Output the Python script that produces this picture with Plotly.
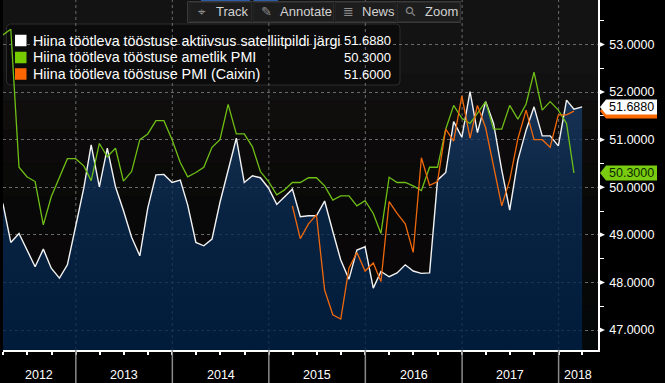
import plotly.graph_objects as go
import pandas as pd

# ---------------- data (monthly, month-end) ----------------
try:
    months = pd.date_range("2012-03-31", "2018-03-31", freq="ME")
except Exception:
    months = pd.date_range("2012-03-31", "2018-03-31", freq="M")

satellite = [
    49.66, 48.84, 49.03, 48.68, 48.33, 48.70, 48.30, 48.09, 48.37, 49.17,            # 2012 Mar-Dec
    49.98, 50.89, 50.01, 50.82, 50.01, 49.51, 48.95, 48.56, 49.56, 50.26, 50.27, 50.10,  # 2013
    50.15, 49.63, 48.84, 48.77, 48.91, 49.68, 50.36, 51.03, 50.10, 50.24, 50.20, 49.98,  # 2014
    49.64, 49.80, 49.96, 49.38, 49.40, 49.40, 49.71, 49.07, 48.47, 48.07, 48.68, 48.75,  # 2015
    47.88, 48.23, 48.12, 48.20, 48.37, 48.24, 48.19, 48.20, 50.15, 50.31, 51.38, 51.05,  # 2016
    52.01, 51.15, 51.80, 51.34, 50.36, 49.52, 50.57, 51.20, 51.69, 51.08, 51.08, 50.87,  # 2017
    51.83, 51.64, 51.688,                                                            # 2018 Jan-Mar
]
official = [
    53.20, 53.32, 50.42, 50.22, 50.12, 49.21, 49.80, 50.20, 50.60, 50.60,
    50.45, 50.14, 50.92, 50.64, 50.82, 50.13, 50.33, 51.00, 51.12, 51.40, 51.40, 51.00,
    50.52, 50.22, 50.31, 50.42, 50.84, 51.00, 51.74, 51.12, 51.12, 50.85, 50.33, 50.12,
    49.84, 49.94, 50.10, 50.10, 50.20, 50.20, 50.03, 49.73, 49.82, 49.82, 49.61, 49.72,
    49.45, 49.03, 50.21, 50.10, 50.10, 50.03, 49.93, 50.42, 50.42, 51.22, 51.72, 51.45,
    51.34, 51.55, 51.80, 51.22, 51.22, 51.72, 51.43, 51.75, 52.42, 51.62, 51.80, 51.62,
    51.34, 50.30, None,
]
caixin = [None] * 36 + [
    49.61, 48.92, 49.23, 49.42, 47.84, 47.32, 47.23, 48.30, 48.63, 48.24,            # 2015 Mar-Dec
    48.41, 48.02, 49.70, 49.45, 49.23, 48.63, 50.62, 50.04, 50.12, 51.22, 50.97, 51.92,  # 2016
    51.03, 51.72, 51.25, 50.43, 49.61, 50.15, 51.02, 51.62, 51.00, 51.00, 50.84, 51.52,  # 2017
    51.52, 51.60, None,                                                              # 2018
]

series_names = [
    "Hiina töötleva tööstuse aktiivsus satelliitpildi järgi",
    "Hiina töötleva tööstuse ametlik PMI",
    "Hiina töötleva tööstuse PMI (Caixin)",
]
last_values = [51.688, 50.30, 51.60]
y_ticks = [47, 48, 49, 50, 51, 52, 53]
y_minor = [46.5, 47.5, 48.5, 49.5, 50.5, 51.5, 52.5, 53.5]
year_labels = [2012, 2013, 2014, 2015, 2016, 2017, 2018]

# ---------------- styling ----------------
W, H = 665, 383
ML, MR, MT, MB = 3, 67, 0, 33
PW, PH = W - ML - MR, H - MT - MB
X_RANGE = ["2012-03-31 12:00", "2018-05-30"]
Y_RANGE = [46.58, 53.935]
PX_PER_UNIT = PH / (Y_RANGE[1] - Y_RANGE[0])
FONT = "Liberation Sans, Arial, sans-serif"
WHITE, GREEN, ORANGE = "#f2f2f2", "#6fbf16", "#f0680c"
BADGE_GREEN, BADGE_ORANGE = "#7acc10", "#ff6a00"


def PX(p):  # pixel x -> paper x
    return (p - ML) / PW


def PY(p):  # pixel y -> paper y
    return (MT + PH - p) / PH


fig = go.Figure()

fig.add_trace(go.Scatter(
    x=months, y=satellite, name=series_names[0], mode="lines",
    line=dict(color=WHITE, width=1.4), fill="tozeroy",
    fillgradient=dict(type="vertical", start=46.58, stop=52.1,
                      colorscale=[[0, "rgba(0,33,72,0.78)"], [0.5, "rgba(8,42,82,0.78)"],
                                  [1, "rgba(26,62,104,0.78)"]]),
    showlegend=False, hoverinfo="skip"))
fig.add_trace(go.Scatter(
    x=months, y=official, name=series_names[1], mode="lines",
    line=dict(color=GREEN, width=1.3), showlegend=False, connectgaps=False))
fig.add_trace(go.Scatter(
    x=months, y=caixin, name=series_names[2], mode="lines",
    line=dict(color=ORANGE, width=1.3), showlegend=False, connectgaps=False))

shapes = []
annotations = []

# background vertical gradient bands (behind the grid)
bands = [(53.935, 52.4, "#131313"), (52.4, 51.8, "#121111"), (51.8, 51.2, "#100d0d"),
         (51.2, 50.5, "#0c0a0a"), (50.5, 49.8, "#0a0a09"), (49.8, 49.0, "#080808"),
         (49.0, 48.2, "#090707"), (48.2, 47.5, "#060707"), (47.5, 46.58, "#040808")]
for top, bot, col in bands:
    shapes.append(dict(type="rect", xref="paper", yref="y", x0=0, x1=1, y0=bot, y1=top,
                       fillcolor=col, line=dict(width=0), layer="below"))


def rounded_rect(x0, y0, x1, y1, r):
    rx, ry = r / PW, r / PH
    X0, X1, Y0, Y1 = PX(x0), PX(x1), PY(y1), PY(y0)
    return (f"M{X0+rx},{Y0} L{X1-rx},{Y0} Q{X1},{Y0} {X1},{Y0+ry} L{X1},{Y1-ry} "
            f"Q{X1},{Y1} {X1-rx},{Y1} L{X0+rx},{Y1} Q{X0},{Y1} {X0},{Y1-ry} "
            f"L{X0},{Y0+ry} Q{X0},{Y0} {X0+rx},{Y0} Z")


# legend box (above grid, below traces)
shapes.append(dict(type="path", xref="paper", yref="paper",
                   path=rounded_rect(6.5, 24, 400, 85, 4),
                   fillcolor="#0b0b0b", line=dict(color="#2c2c2c", width=1), layer="between"))

row_y = [40.5, 57.5, 74]
sq_colors = ["#ffffff", "#77cc00", "#ff6600"]
for i in range(3):
    shapes.append(dict(type="rect", xref="paper", yref="paper",
                       x0=PX(15), x1=PX(26.5), y0=PY(row_y[i] + 5.75), y1=PY(row_y[i] - 5.75),
                       fillcolor=sq_colors[i], line=dict(width=0), layer="above"))
    annotations.append(dict(xref="paper", yref="paper", x=PX(31), y=PY(row_y[i]),
                            text=series_names[i], showarrow=False, xanchor="left",
                            yanchor="middle", font=dict(family=FONT, size=14.3, color="#ffffff")))
    annotations.append(dict(xref="paper", yref="paper", x=PX(393), y=PY(row_y[i]),
                            text=f"{last_values[i]:.4f}", showarrow=False, xanchor="right",
                            yanchor="middle", font=dict(family=FONT, size=13, color="#ffffff")))

# year separators below the axis + centred year labels
x0d, x1d = pd.Timestamp(X_RANGE[0]), pd.Timestamp(X_RANGE[1])
for yr in year_labels:
    ys, ye = pd.Timestamp(f"{yr}-01-01"), pd.Timestamp(f"{yr + 1}-01-01")
    if x0d < ys < x1d:
        shapes.append(dict(type="line", xref="x", yref="paper", x0=ys, x1=ys,
                           y0=0, y1=-MB / PH, line=dict(color="#8a8a8a", width=1.5)))
    a, b = max(ys, x0d), min(ye, x1d)
    annotations.append(dict(xref="x", yref="paper", x=a + (b - a) / 2, y=PY(375),
                            text=str(yr), showarrow=False, xanchor="center", yanchor="middle",
                            font=dict(family=FONT, size=12.5, color="#ffffff")))

# tick triangles on the right axis
th = 3 / PX_PER_UNIT
for v in y_ticks:
    shapes.append(dict(type="path", xref="paper", yref="y",
                       path=f"M{PX(598.5)},{v - th} L{PX(598.5)},{v + th} L{PX(605)},{v} Z",
                       fillcolor="#ffffff", line=dict(width=0), layer="above"))

# last-value badges (orange first, white on top, green)
bh = 7.5 / PX_PER_UNIT
badges = [(last_values[2], BADGE_ORANGE, "#000000"),
          (last_values[0], "#ffffff", "#000000"),
          (last_values[1], BADGE_GREEN, "#0b2a00")]
for v, col, tcol in badges:
    shapes.append(dict(type="path", xref="paper", yref="y",
                       path=(f"M{PX(600)},{v} L{PX(606)},{v + bh} L{PX(657)},{v + bh} "
                             f"L{PX(657)},{v - bh} L{PX(606)},{v - bh} Z"),
                       fillcolor=col, line=dict(width=0), layer="above"))
    if col != BADGE_ORANGE:
        annotations.append(dict(xref="paper", yref="y", x=PX(631.5), y=v, text=f"{v:.4f}",
                                showarrow=False, xanchor="center", yanchor="middle",
                                font=dict(family=FONT, size=12.5, color=tcol)))

# toolbar
shapes.append(dict(type="rect", xref="paper", yref="paper", x0=PX(201), x1=PX(250),
                   y0=PY(1.5), y1=PY(0), fillcolor="#2d5da8", line=dict(width=0), layer="above"))
shapes.append(dict(type="rect", xref="paper", yref="paper", x0=PX(253.5), x1=PX(278),
                   y0=PY(1.5), y1=PY(0), fillcolor="#2d5da8", line=dict(width=0), layer="above"))
shapes.append(dict(type="rect", xref="paper", yref="paper", x0=PX(187.5), x1=PX(460.5),
                   y0=PY(22.5), y1=PY(1.5), fillcolor="#101010", line=dict(color="#3a3a3a", width=1),
                   layer="above"))
buttons = [(189, 251.5, "⌖", "Track"), (253, 333.5, "✎", "Annotate"),
           (335, 396, "≣", "News"), (397.5, 460, "⚲", "Zoom")]
for bx0, bx1, icon, label in buttons:
    shapes.append(dict(type="rect", xref="paper", yref="paper", x0=PX(bx0), x1=PX(bx1),
                       y0=PY(21.5), y1=PY(2.5), fillcolor="#1d1d1d",
                       line=dict(color="#2a2a2a", width=1), layer="above"))
    annotations.append(dict(xref="paper", yref="paper", x=PX(bx0 + 13), y=PY(12),
                            text=icon, showarrow=False, xanchor="center", yanchor="middle",
                            textangle=-45 if label == "Zoom" else 0,
                            font=dict(family="DejaVu Sans", size=13, color="#8c8c8c")))
    annotations.append(dict(xref="paper", yref="paper", x=PX(bx0 + 25), y=PY(12),
                            text=label, showarrow=False, xanchor="left", yanchor="middle",
                            font=dict(family=FONT, size=13, color="#d2d2d2")))

fig.update_layout(
    width=W, height=H, margin=dict(l=ML, r=MR, t=MT, b=MB, pad=0),
    paper_bgcolor="#000000", plot_bgcolor="#000000",
    shapes=shapes, annotations=annotations, showlegend=False,
    font=dict(family=FONT, color="#ffffff"),
    xaxis=dict(type="date", range=X_RANGE, showline=True, linecolor="#ffffff", linewidth=1.5,
               ticks="outside", ticklen=3, tickwidth=1.5, tickcolor="#ffffff",
               tick0="2012-04-01", dtick="M3", showticklabels=False,
               showgrid=False, zeroline=False, fixedrange=True),
    yaxis=dict(side="right", range=Y_RANGE, showline=True, linecolor="#ffffff", linewidth=1.5,
               tickmode="array", tickvals=y_ticks, ticktext=[f"{v:.4f}" for v in y_ticks],
               ticks="", ticklabelstandoff=7,
               tickfont=dict(family=FONT, size=12.5, color="#ffffff"),
               showgrid=True, gridcolor="#6a6a6a", griddash="3px,3px", gridwidth=1,
               zeroline=False, fixedrange=True,
               minor=dict(tickmode="array", tickvals=y_minor, ticks="outside", ticklen=4,
                          tickcolor="#ffffff", tickwidth=1.2, showgrid=False)),
)

# vertical dashed gridlines at year boundaries
for yr in year_labels[1:]:
    ys = pd.Timestamp(f"{yr}-01-01")
    fig.add_vline(x=ys, line=dict(color="#6a6a6a", width=1, dash="3px,3px"), layer="below")

fig.write_html("out.html", config={"displayModeBar": False},
               post_script="document.body.style.margin='0px';document.body.style.background='#000';")
